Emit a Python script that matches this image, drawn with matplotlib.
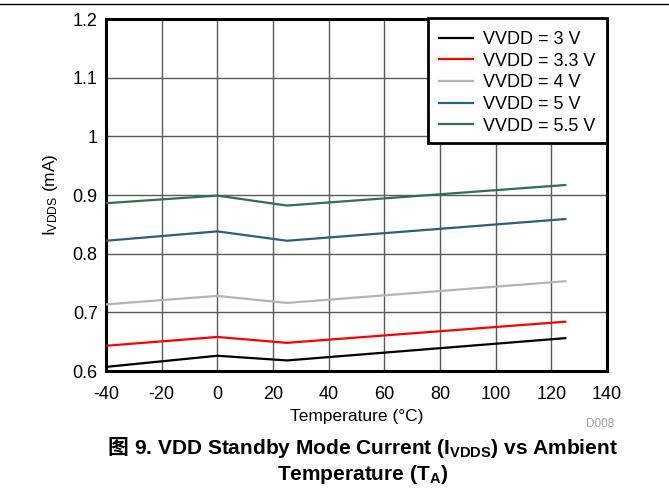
import numpy as np
import matplotlib
matplotlib.use("Agg")
from matplotlib import pyplot as plt
from matplotlib.patches import Rectangle
from matplotlib.ticker import FuncFormatter

plt.rcParams['font.family'] = ['Liberation Sans', 'Noto Sans CJK SC', 'DejaVu Sans']
plt.rcParams['mathtext.fontset'] = 'custom'
plt.rcParams['mathtext.rm'] = 'Liberation Sans'
plt.rcParams['mathtext.bf'] = 'Liberation Sans:bold'
plt.rcParams['mathtext.it'] = 'Liberation Sans:italic'
plt.rcParams['axes.unicode_minus'] = False

temps = [-40, 0, 25, 125]
labels = ["VVDD = 3 V", "VVDD = 3.3 V", "VVDD = 4 V", "VVDD = 5 V", "VVDD = 5.5 V"]
i_3v = [0.607, 0.626, 0.618, 0.656]
i_3v3 = [0.643, 0.658, 0.648, 0.684]
i_4v = [0.7135, 0.728, 0.716, 0.753]
i_5v = [0.822, 0.838, 0.822, 0.859]
i_5v5 = [0.886, 0.899, 0.882, 0.917]
colors = ["#000000", "#ff0000", "#b4b4b4", "#2c5e7e", "#2e7050"]

W, H = 669, 491
fig = plt.figure(figsize=(W / 100, H / 100), dpi=100)
ax = fig.add_axes([106 / W, 1 - 371 / H, 501 / W, 352 / H])

for ys, c, lab in zip([i_3v, i_3v3, i_4v, i_5v, i_5v5], colors, labels):
    ax.plot(temps, ys, color=c, lw=1.6, label=lab, zorder=3)

ax.set_xlim(-40, 140)
ax.set_ylim(0.6, 1.2)
ax.set_xticks(np.arange(-40, 141, 20))
ax.set_yticks(np.arange(0.6, 1.201, 0.1))
ax.yaxis.set_major_formatter(FuncFormatter(lambda v, p: f"{round(v, 2):g}"))
ax.grid(True, color="#5a5a5a", lw=1.0, zorder=1)
ax.tick_params(length=0, labelsize=13)
ax.tick_params(axis="x", pad=10.5)
ax.tick_params(axis="y", pad=6)
for s in ax.spines.values():
    s.set_linewidth(2.2)

ax.set_xlabel("Temperature (°C)", fontsize=12.5, labelpad=4.5)
ax.set_ylabel(r"$\mathrm{I_{VDDS}}$ (mA)", fontsize=12.5, labelpad=9)

# legend frame drawn separately so the vertical padding can differ from the horizontal
box = Rectangle((428 / W, 1 - 143 / H), 179 / W, 125 / H, transform=fig.transFigure,
                facecolor="white", edgecolor="black", lw=2.0, zorder=4)
ax.add_artist(box)
box.set_clip_on(False)
leg = ax.legend(loc="upper left", bbox_to_anchor=(439 / W, 1 - 31 / H),
                bbox_transform=fig.transFigure, fontsize=13, frameon=False,
                borderaxespad=0, borderpad=0, handlelength=1.9,
                labelspacing=0.26, handletextpad=0.55)
leg.set_zorder(5)

fig.add_artist(plt.Line2D([0, 1], [1 - 4 / H, 1 - 4 / H], color="black", lw=1.0))
fig.text(600 / W, 1 - 424 / H, "D008", fontsize=8.5, color="#a0a0a0",
         ha="center", va="center")

# caption: CJK glyph drawn as its own text since mathtext has no font fallback
cap_size = 15
y1 = 1 - 448 / H
fig_char = fig.text(0, y1, "图 ", fontsize=cap_size, fontweight="bold",
                    family=["Noto Sans CJK SC"], ha="left", va="center")
rest = fig.text(0, y1, r"9. VDD Standby Mode Current ($\mathbf{I_{VDDS}}$) vs Ambient",
                fontsize=cap_size, fontweight="bold", ha="left", va="center")
r = fig.canvas.get_renderer()
w0 = fig_char.get_window_extent(r).width
w1 = rest.get_window_extent(r).width
x0 = 363 - (w0 + w1) / 2
fig_char.set_x(x0 / W)
rest.set_x((x0 + w0) / W)
fig.text(363 / W, 1 - 474 / H, r"Temperature ($\mathbf{T_{A}}$)",
         fontsize=cap_size, fontweight="bold", ha="center", va="center")

fig.savefig("out.png", dpi=100)
